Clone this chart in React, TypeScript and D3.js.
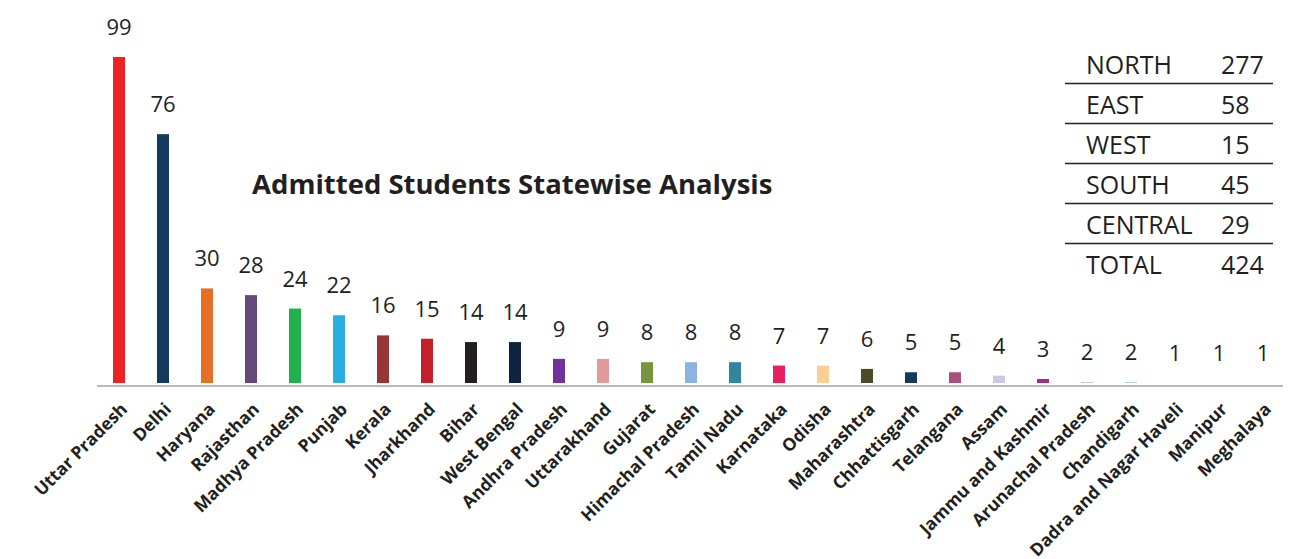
import * as d3 from "d3";
import React from "react";

const width = 1298;
const height = 559;

const states = [
  "Uttar Pradesh", "Delhi", "Haryana", "Rajasthan", "Madhya Pradesh", "Punjab",
  "Kerala", "Jharkhand", "Bihar", "West Bengal", "Andhra Pradesh", "Uttarakhand",
  "Gujarat", "Himachal Pradesh", "Tamil Nadu", "Karnataka", "Odisha", "Maharashtra",
  "Chhattisgarh", "Telangana", "Assam", "Jammu and Kashmir", "Arunachal Pradesh",
  "Chandigarh", "Dadra and Nagar Haveli", "Manipur", "Meghalaya",
];
const students = [99, 76, 30, 28, 24, 22, 16, 15, 14, 14, 9, 9, 8, 8, 8, 7, 7, 6, 5, 5, 4, 3, 2, 2, 1, 1, 1];
const barColors = [
  "#ed2224", "#163a5f", "#e46f25", "#634a7a", "#22b14c", "#2aaee2",
  "#973638", "#c4202a", "#231f20", "#0f2340", "#7030a0", "#e09a9a",
  "#77953a", "#8db3e2", "#31859c", "#ea1e63", "#fdcd96", "#4a4a2a",
  "#17375e", "#a94f7a", "#ccc8e6", "#a02b93", "#8db3e2",
  "#8db3e2", "#8db3e2", "#8db3e2", "#8db3e2",
];

const regions = ["NORTH", "EAST", "WEST", "SOUTH", "CENTRAL", "TOTAL"];
const regionCounts = [277, 58, 15, 45, 29, 424];

const ink = "#231f20";
const font = "'Open Sans', sans-serif";

export default function App() {
  const x = d3
    .scaleBand()
    .domain(states)
    .range([97, 1285])
    .paddingInner(0.727)
    .paddingOuter(0.3635);

  // baseline sits at 383, the smallest values barely show
  const y = d3.scaleLinear().domain([1.8, 99]).range([383, 57]);
  const y0 = y(1.8);

  const rowY = d3.scalePoint().domain(regions).range([65, 265]);

  return (
    <svg
      width={width}
      height={height}
      style={{ position: "absolute", left: 0, top: 0, background: "#fff" }}
      fontFamily={font}
    >
      {/* bars */}
      <g>
        {states.map((s, i) => {
          const top = Math.min(y0, y(students[i]));
          return (
            <rect
              key={s}
              x={x(s)}
              y={top}
              width={x.bandwidth()}
              height={y0 - top}
              fill={barColors[i]}
            />
          );
        })}
      </g>

      {/* value labels */}
      <g fill={ink} fontSize={22} textAnchor="middle">
        {states.map((s, i) => (
          <text key={s} x={x(s)! + x.bandwidth() / 2} y={Math.min(y0, y(students[i])) - 22}>
            {students[i]}
          </text>
        ))}
      </g>

      {/* axis line */}
      <line x1={97} x2={1283} y1={386} y2={386} stroke="#a3a3a3" strokeWidth={1.6} />

      {/* state names */}
      <g fill={ink} fontSize={17.5} fontWeight="bold" textAnchor="end">
        {states.map((s) => (
          <text
            key={s}
            transform={`translate(${x(s)! + x.bandwidth() / 2 + 5},${406}) rotate(-45)`}
            dy="0.35em"
          >
            {s}
          </text>
        ))}
      </g>

      {/* title */}
      <text x={252} y={194} fontSize={27.5} fontWeight="bold" fill={ink}>
        Admitted Students Statewise Analysis
      </text>

      {/* region table */}
      <g fill={ink} fontSize={25}>
        {regions.map((r, i) => (
          <g key={r}>
            <text x={1086} y={rowY(r)!} dy="0.36em">
              {r}
            </text>
            <text x={1221} y={rowY(r)!} dy="0.36em">
              {regionCounts[i]}
            </text>
            {i < regions.length - 1 && (
              <line
                x1={1065}
                x2={1273}
                y1={rowY(r)! + 18.5}
                y2={rowY(r)! + 18.5}
                stroke={ink}
                strokeWidth={1.3}
              />
            )}
          </g>
        ))}
      </g>
    </svg>
  );
}
